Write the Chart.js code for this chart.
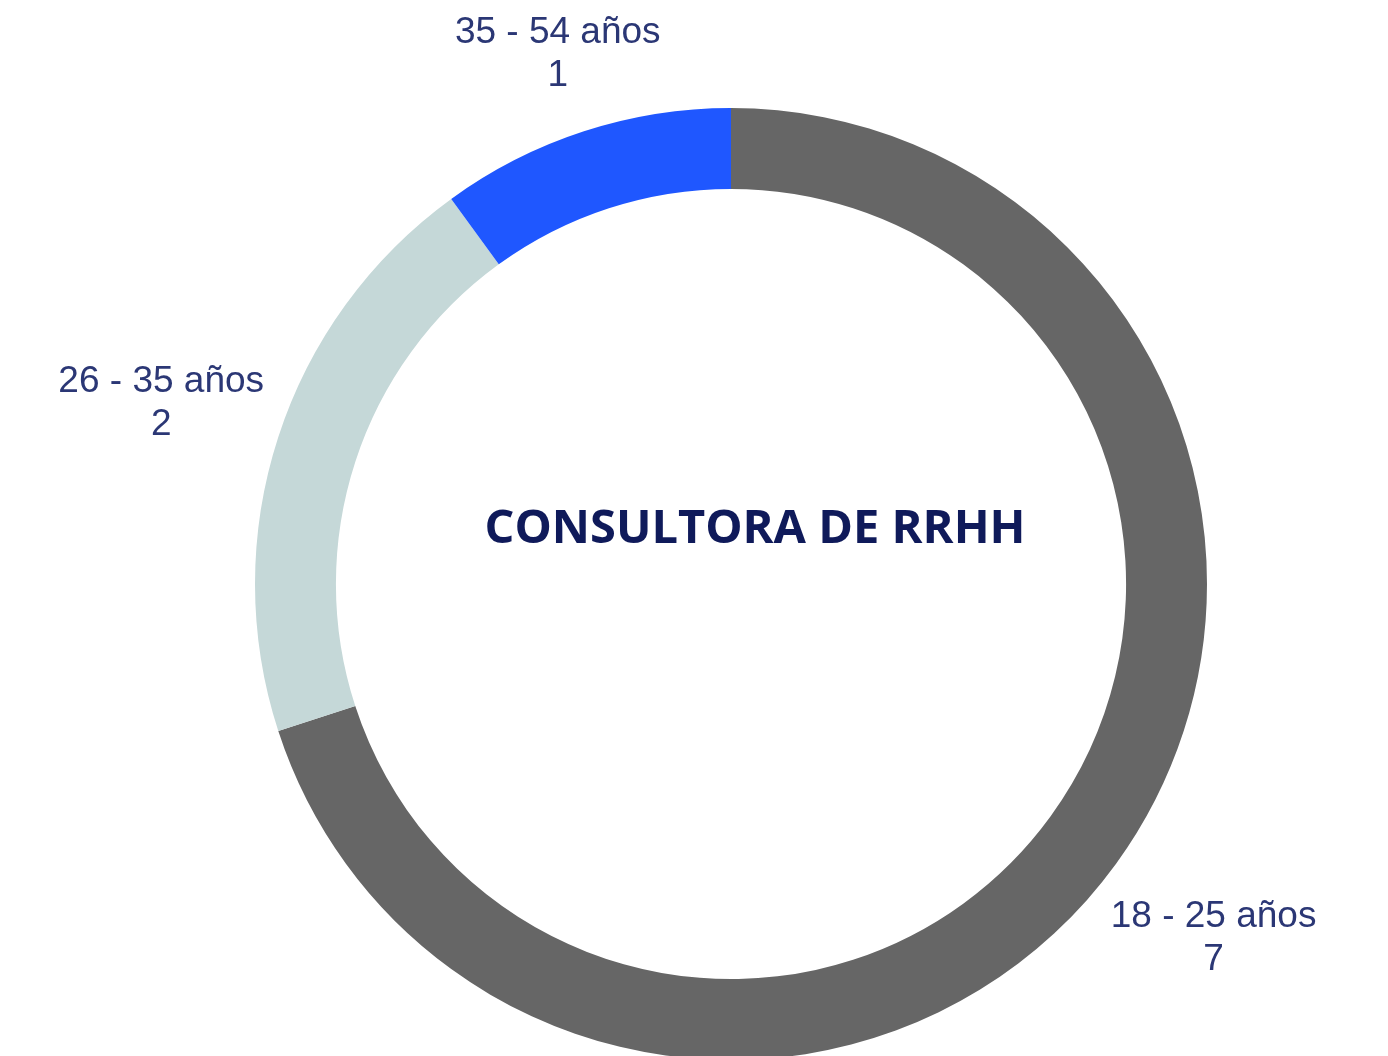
<!DOCTYPE html>
<html>
<head>
<meta charset="utf-8">
<script src="https://cdn.jsdelivr.net/npm/chart.js@4.4.1/dist/chart.umd.min.js"></script>
<style>
  html, body { margin: 0; padding: 0; background: #fff; overflow: hidden; }
  #wrap { position: relative; width: 1388px; height: 1064px; }
</style>
</head>
<body>
<div id="wrap"><canvas id="grafico"></canvas></div>
<script>
const categorias = ["18 - 25 años", "26 - 35 años", "35 - 54 años"];
const valores = [7, 2, 1];
const colores = ["#666666", "#c5d8d8", "#1f57ff"];
const titulo = "CONSULTORA DE RRHH";

// etiquetas fuera del anillo, en el angulo medio de cada sector
const etiquetasPlugin = {
  id: "etiquetas",
  afterDraw(chart) {
    const ctx = chart.ctx;
    const meta = chart.getDatasetMeta(0);
    ctx.save();
    ctx.font = "37px 'Liberation Sans', Arial, sans-serif";
    ctx.fillStyle = "#2b3775";
    ctx.textAlign = "center";
    ctx.textBaseline = "middle";
    const lineH = 43;
    meta.data.forEach((arc, i) => {
      const p = arc.getProps(["x", "y", "startAngle", "endAngle", "outerRadius"], true);
      const mid = (p.startAngle + p.endAngle) / 2;
      const dx = Math.cos(mid), dy = Math.sin(mid);
      const lineas = [categorias[i], String(valores[i])];
      const w = Math.max(...lineas.map(t => ctx.measureText(t).width));
      const h = lineH * lineas.length;
      const ext = Math.abs(dx) * w / 2 + Math.abs(dy) * h / 2;
      const r = p.outerRadius + 12 + ext;
      const cx = p.x + dx * r, cy = p.y + dy * r + 4;
      lineas.forEach((t, j) => {
        ctx.fillText(t, cx, cy - h / 2 + lineH * (j + 0.5));
      });
    });
    ctx.restore();
  }
};

const tituloPlugin = {
  id: "titulo",
  afterDraw(chart) {
    const ctx = chart.ctx;
    const arc = chart.getDatasetMeta(0).data[0];
    ctx.save();
    ctx.font = "bold 47px 'Open Sans', sans-serif";
    ctx.fillStyle = "#0f1a5a";
    ctx.textAlign = "center";
    ctx.textBaseline = "middle";
    ctx.fillText(titulo, arc.x + 24, arc.y - 54);
    ctx.restore();
  }
};

new Chart(document.getElementById("grafico").getContext("2d"), {
  type: "doughnut",
  data: {
    labels: categorias,
    datasets: [{
      data: valores,
      backgroundColor: colores,
      borderWidth: 0
    }]
  },
  options: {
    responsive: true,
    maintainAspectRatio: false,
    animation: false,
    cutout: "83%",
    layout: { padding: { top: 108, bottom: 4, left: 74, right: 0 } },
    plugins: {
      legend: { display: false },
      tooltip: { enabled: false }
    }
  },
  plugins: [etiquetasPlugin, tituloPlugin]
});
</script>
</body>
</html>
